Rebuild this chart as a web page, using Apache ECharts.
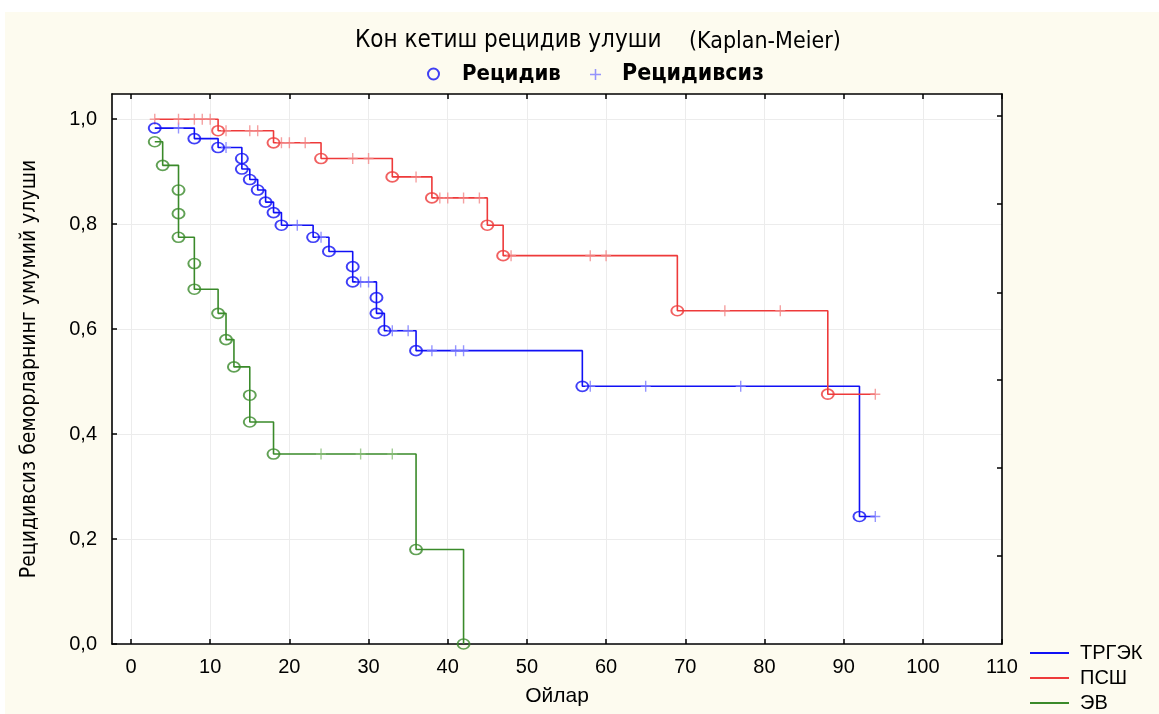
<!DOCTYPE html>
<html><head><meta charset="utf-8">
<script src="https://cdn.jsdelivr.net/npm/echarts@6/dist/echarts.min.js"></script>
<style>html,body{margin:0;padding:0;background:#fff}#c{width:1159px;height:714px}</style>
</head><body><div id="c"></div>
<script>
// ---- tick labels ----
const xTickValues = [0,10,20,30,40,50,60,70,80,90,100,110];
const yTickValues = [0,0.2,0.4,0.6,0.8,1.0];
const rightTickValues = [0.168,0.335,0.503,0.670,0.838,1.006];
const groupNames = ['ТРГЭК','ПСШ','ЭВ'];
const markerNames = ['Рецидив','Рецидивсиз'];

// ---- ТРГЭК (blue) ----
const trgekEventTimes = [3,8,11,14,14,15,16,17,18,19,23,25,28,28,31,31,32,36,57,92];
const trgekEventSurv  = [0.983,0.963,0.946,0.925,0.905,0.885,0.865,0.842,0.822,0.798,0.775,0.748,0.719,0.690,0.660,0.630,0.597,0.559,0.491,0.243];
const trgekCensorTimes = [6,12,21,24,29,30,33,35,38,41,42,58,65,77,94];

// ---- ПСШ (red) ----
const psshEventTimes = [11,18,24,33,38,45,47,69,88];
const psshEventSurv  = [0.978,0.955,0.925,0.890,0.850,0.798,0.740,0.635,0.476];
const psshCensorTimes = [3,6,8,9,10,12,15,16,19,20,22,28,30,36,39,40,42,44,48,58,60,75,82,94];

// ---- ЭВ (green) ----
const evEventTimes = [3,4,6,6,6,8,8,11,12,13,15,15,18,36,42];
const evEventSurv  = [0.957,0.912,0.865,0.820,0.775,0.725,0.676,0.630,0.580,0.528,0.474,0.423,0.362,0.180,0.0];
const evCensorTimes = [24,29,33];

const colors = ['#1010f5','#ee3a3a','#3a8a2a'];
const censorColors = ['#7a7aff','#f38a8a','#8cbf7c'];

function survAt(t, times, surv){
  let s = 1.0;
  for (let i=0;i<times.length;i++){ if (times[i] <= t) s = surv[i]; }
  return s;
}
function build(evT, evS, cT){
  const events = evT.map((t,i)=>[t, evS[i]]);
  const censors = cT.map(t=>[t, survAt(t, evT, evS)]);
  const all = events.map(p=>({p, k:0})).concat(censors.map(p=>({p, k:1})));
  all.sort((a,b)=> a.p[0]-b.p[0] || a.k-b.k || b.p[1]-a.p[1]);
  return {events, censors, line: all.map(o=>o.p)};
}
const groups = [
  build(trgekEventTimes, trgekEventSurv, trgekCensorTimes),
  build(psshEventTimes, psshEventSurv, psshCensorTimes),
  build(evEventTimes, evEventSurv, evCensorTimes)
];

const plusPath = 'path://M4.3,0H5.7V10H4.3Z M0,4.3H10V5.7H0Z';
const FN = '"Liberation Sans Narrow","DejaVu Sans Condensed","Liberation Sans",sans-serif';
const FA = '"Liberation Sans",Arial,sans-serif';

const series = [];
groups.forEach((g,i)=>{
  series.push({name: groupNames[i], type:'line', step:'end', data:g.line, showSymbol:false,
    symbol:'none', lineStyle:{color:colors[i], width:1.6}, itemStyle:{color:colors[i]}, z:2, animation:false});
});
groups.forEach((g,i)=>{
  series.push({name: markerNames[1], type:'scatter', data:g.censors, symbol:plusPath, symbolSize:[10,11],
    itemStyle:{color:censorColors[i]}, z:3, animation:false});
});
groups.forEach((g,i)=>{
  series.push({name: markerNames[0], type:'scatter', data:g.events, symbol:'circle', symbolSize:[12,10],
    itemStyle:{color:'rgba(255,255,255,0)', borderColor:colors[i], borderWidth:1.8}, z:4, animation:false});
});

const chart = echarts.init(document.getElementById('c'), null, {renderer:'canvas'});
chart.setOption({
  backgroundColor:'#ffffff',
  animation:false,
  graphic:[{type:'rect', left:5, top:12, shape:{width:1154, height:702}, style:{fill:'#fdfbef'}, z:-10, silent:true}],
  title:[
    {text:'Кон кетиш рецидив улуши', left:350, top:24, textStyle:{fontFamily:FN, fontSize:24, fontWeight:'normal', color:'#000'}},
    {text:'(Kaplan-Meier)', left:684, top:26, textStyle:{fontFamily:FN, fontSize:23, fontWeight:'normal', color:'#000'}}
  ],
  legend:[
    {data:[{name:markerNames[0], icon:'circle', itemStyle:{color:'rgba(255,255,255,0)', borderColor:colors[0], borderWidth:2}}],
     left:422, top:58, itemWidth:11, itemHeight:11, selectedMode:false,
     textStyle:{fontFamily:FN, fontSize:22, fontWeight:'bold', color:'#000', padding:[0,0,0,18]}},
    {data:[{name:markerNames[1], icon:plusPath, itemStyle:{color:censorColors[0]}}],
     left:585, top:58, itemWidth:11, itemHeight:11, selectedMode:false,
     textStyle:{fontFamily:FN, fontSize:23, fontWeight:'bold', color:'#000', padding:[0,0,0,16]}},
    {data:groupNames, orient:'vertical', left:1030, top:643, padding:0, itemWidth:39, itemHeight:2, itemGap:5, icon:'rect',
     selectedMode:false, textStyle:{fontFamily:FA, fontSize:20, color:'#000', lineHeight:20, padding:[0,0,0,6]}}
  ],
  grid:{left:112, right:157, top:94, bottom:70, show:true, backgroundColor:'#ffffff', borderColor:'#000', borderWidth:0},
  xAxis:[
    {type:'value', position:'bottom', min:-2.4, max:110, name:'Ойлар', nameLocation:'middle', nameGap:42,
     nameTextStyle:{fontFamily:FA, fontSize:21, color:'#000'},
     axisLine:{show:true, onZero:false, lineStyle:{color:'#000', width:1.6}},
     axisTick:{show:true, inside:true, length:5, customValues:xTickValues, lineStyle:{color:'#000', width:1.5}},
     axisLabel:{customValues:xTickValues, margin:13, fontFamily:FA, fontSize:20, color:'#000', showMinLabel:true, showMaxLabel:true},
     splitLine:{show:true, lineStyle:{color:'#ececec', width:1}}},
    {type:'value', position:'top', min:-2.4, max:110,
     axisLine:{show:true, onZero:false, lineStyle:{color:'#000', width:1.6}},
     axisTick:{show:true, inside:true, length:5, customValues:xTickValues, lineStyle:{color:'#000', width:1.5}},
     axisLabel:{show:false}, splitLine:{show:false}}
  ],
  yAxis:[
    {type:'value', position:'left', min:0, max:1.048, name:'Рецидивсиз беморларнинг умумий улуши',
     nameLocation:'middle', nameGap:72, nameRotate:90,
     nameTextStyle:{fontFamily:FN, fontSize:21, color:'#000'},
     axisLine:{show:true, onZero:false, lineStyle:{color:'#000', width:1.6}},
     axisTick:{show:true, inside:true, length:5, customValues:yTickValues, lineStyle:{color:'#000', width:1.5}},
     axisLabel:{customValues:yTickValues, margin:15, fontFamily:FA, fontSize:20, color:'#000',
       formatter:v=>v.toFixed(1).replace('.',',')},
     splitLine:{show:true, lineStyle:{color:'#ececec', width:1}}},
    {type:'value', position:'right', min:0, max:1.048,
     axisLine:{show:true, onZero:false, lineStyle:{color:'#000', width:1.6}},
     axisTick:{show:true, inside:true, length:5, customValues:rightTickValues, lineStyle:{color:'#000', width:1.5}},
     axisLabel:{show:false}, splitLine:{show:false}}
  ],
  series: series
});
</script></body></html>
